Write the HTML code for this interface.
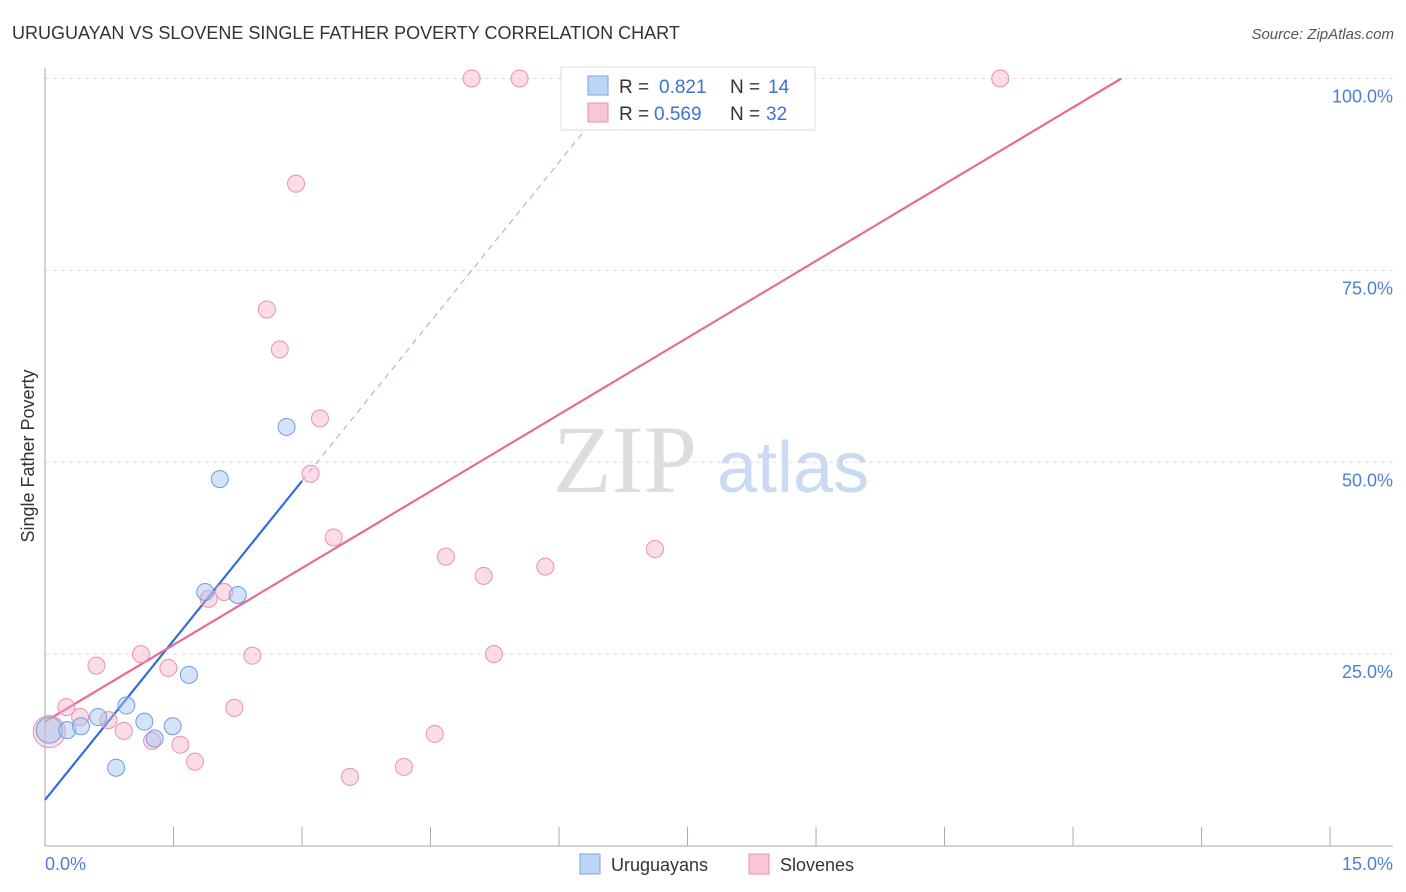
<!DOCTYPE html>
<html><head><meta charset="utf-8"><style>
body{margin:0;background:#fff;font-family:"Liberation Sans",sans-serif;}
svg{display:block}
</style></head><body>
<svg width="1406" height="892" xmlns="http://www.w3.org/2000/svg" id="chart">
<text x="12" y="39" font-size="18" fill="#333">URUGUAYAN VS SLOVENE SINGLE FATHER POVERTY CORRELATION CHART</text>
<text x="1394" y="39" font-size="15" fill="#555" text-anchor="end" font-style="italic">Source: ZipAtlas.com</text>
<g>
<text x="553" y="492" font-size="96" fill="#ddd" font-family="Liberation Serif,serif">ZIP</text>
<text x="717" y="492" font-size="72" fill="#c9daf2">atlas</text>
</g>
<g id="grid"></g>
<g id="axes"></g>
<g id="lines"></g>
<g id="pts"></g>
<text transform="translate(34,456) rotate(-90)" font-size="18" fill="#333" text-anchor="middle">Single Father Poverty</text>
<text x="45" y="870" font-size="18" fill="#4a7fd4">0.0%</text>
<text x="1393" y="870" font-size="18" fill="#4a7fd4" text-anchor="end">15.0%</text>
<g>
<rect x="561" y="67" width="254" height="63" fill="#fff" stroke="#ddd"/>
<rect x="588" y="76" width="20" height="19" fill="#bcd5f5" stroke="#7aa6e0"/>
<rect x="588" y="103" width="20" height="19" fill="#f9c6d6" stroke="#ec8fb0"/>
<text x="619" y="93" font-size="19" fill="#333">R =</text>
<text x="659" y="93" font-size="19" fill="#3b73d0">0.821</text>
<text x="730" y="93" font-size="19" fill="#333">N =</text>
<text x="768" y="93" font-size="19" fill="#3b73d0">14</text>
<text x="619" y="120" font-size="19" fill="#333">R =</text>
<text x="654" y="120" font-size="19" fill="#3b73d0">0.569</text>
<text x="730" y="120" font-size="19" fill="#333">N =</text>
<text x="766" y="120" font-size="19" fill="#3b73d0">32</text>
</g>
<g>
<rect x="580" y="854" width="20" height="20" fill="#bcd5f5" stroke="#7aa6e0"/>
<text x="611" y="871" font-size="18" fill="#333">Uruguayans</text>
<rect x="749" y="854" width="20" height="20" fill="#f9c6d6" stroke="#ec8fb0"/>
<text x="780" y="871" font-size="18" fill="#333">Slovenes</text>
</g>
</svg>
<script>
const blueX=[0.05,0.26,0.42,0.62,0.95,0.83,1.16,1.28,1.49,1.68,1.87,2.04,2.25,2.82];
const blueY=[15.1,15.1,15.6,16.8,18.3,10.2,16.2,14.0,15.6,22.3,33.1,47.8,32.7,54.6];
const pinkX=[0.05,0.25,0.41,0.60,0.74,0.92,1.12,1.25,1.44,1.58,1.75,1.91,2.09,2.21,2.42,2.59,2.74,2.93,3.10,3.21,3.37,3.56,4.19,4.55,4.68,5.12,5.24,4.98,5.54,5.84,7.12,11.15];
const pinkY=[14.9,18.1,16.8,23.5,16.4,15.0,25.0,13.7,23.2,13.2,11.0,32.2,33.1,18.0,24.8,69.9,64.7,86.3,48.5,55.7,40.2,9.0,10.3,14.6,37.7,35.2,25.0,100,100,36.4,38.7,100];
const yTicks=[25,50,75,100];
const yTickLabels=["25.0%","50.0%","75.0%","100.0%"];
const blueFit=[6.0,13.85];
const pinkFit=[16.2,6.67];
const NS="http://www.w3.org/2000/svg";
const sx=v=>45+v*85.67, sy=v=>846-v*7.675;
function mk(t,a,p){const e=document.createElementNS(NS,t);for(const k in a)e.setAttribute(k,a[k]);p.appendChild(e);return e;}
const grid=document.getElementById('grid'),axes=document.getElementById('axes'),lines=document.getElementById('lines'),pts=document.getElementById('pts');
yTicks.forEach((t,i)=>{
const g=mk('line',{x1:45,x2:1393,y1:sy(t),y2:sy(t),stroke:'#ddd','stroke-dasharray':'4,4'},grid);


const l=mk('text',{x:1393,y:sy(t)+24,'font-size':18,fill:'#4a7fd4','text-anchor':'end'},grid);
l.textContent=yTickLabels[i];


});
const ya=mk('line',{x1:45,x2:45,y1:68,y2:846,stroke:'#aaa'},axes);


const xa=mk('line',{x1:45,x2:1393,y1:846,y2:846,stroke:'#aaa'},axes);


for(let i=1;i<=10;i++){const t=mk('line',{x1:sx(i*1.5),x2:sx(i*1.5),y1:827,y2:846,stroke:'#aaa'},axes);

}
const bx2=3.0,bx3=6.43;
const bl=mk('line',{x1:sx(0),y1:sy(blueFit[0]),x2:sx(bx2),y2:sy(blueFit[0]+blueFit[1]*bx2),stroke:'#2f6fd6','stroke-width':2.2},lines);


const bd=mk('line',{x1:sx(bx2),y1:sy(blueFit[0]+blueFit[1]*bx2),x2:sx(bx3),y2:sy(blueFit[0]+blueFit[1]*bx3),stroke:'#8fb0e0','stroke-width':1,'stroke-dasharray':'6,5'},lines);


const px2=(100-pinkFit[0])/pinkFit[1];
const pl=mk('line',{x1:sx(0),y1:sy(pinkFit[0]),x2:sx(px2),y2:sy(100),stroke:'#e8699a','stroke-width':2.2},lines);


pinkX.forEach((x,i)=>{const c=mk('circle',{cx:sx(x),cy:sy(pinkY[i]),r:i==0?16:8.5,fill:'rgba(245,170,195,0.4)',stroke:'#ec8fb0','stroke-width':1},pts);

});
blueX.forEach((x,i)=>{const c=mk('circle',{cx:sx(x),cy:sy(blueY[i]),r:i==0?13:8.5,fill:'rgba(160,195,240,0.45)',stroke:'#6f9de0','stroke-width':1},pts);

});
</script>
</body></html>
